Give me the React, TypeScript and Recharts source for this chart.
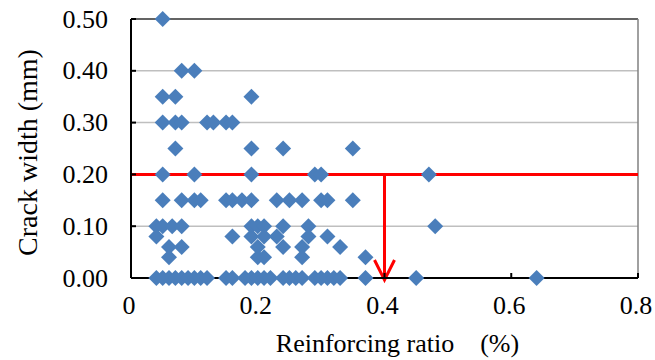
import { ScatterChart, Scatter, XAxis, YAxis, CartesianGrid, ReferenceLine, Label } from "recharts"

// reinforcing ratio (%) of each specimen, grouped by measured crack width (mm)
const ratiosAt050 = [0.05]
const ratiosAt040 = [0.08, 0.1]
const ratiosAt035 = [0.05, 0.07, 0.19]
const ratiosAt030 = [0.05, 0.07, 0.08, 0.12, 0.13, 0.15, 0.16]
const ratiosAt025 = [0.07, 0.19, 0.24, 0.35]
const ratiosAt020 = [0.05, 0.1, 0.19, 0.29, 0.3, 0.47]
const ratiosAt015 = [0.05, 0.08, 0.1, 0.11, 0.15, 0.16, 0.175, 0.19, 0.23, 0.25, 0.27, 0.3, 0.31, 0.35]
const ratiosAt010 = [0.04, 0.05, 0.065, 0.08, 0.19, 0.2, 0.21, 0.24, 0.28, 0.48]
const ratiosAt008 = [0.04, 0.16, 0.19, 0.21, 0.23, 0.28, 0.31]
const ratiosAt006 = [0.06, 0.08, 0.2, 0.24, 0.27, 0.33]
const ratiosAt004 = [0.06, 0.2, 0.21, 0.27, 0.37]
const ratiosAt000 = [
  0.04, 0.05, 0.06, 0.07, 0.08, 0.09, 0.1, 0.11, 0.12, 0.15, 0.16, 0.18, 0.19, 0.2, 0.21, 0.22,
  0.24, 0.25, 0.26, 0.27, 0.29, 0.3, 0.31, 0.32, 0.33, 0.37, 0.45, 0.64,
]

const crackWidths = [0.5, 0.4, 0.35, 0.3, 0.25, 0.2, 0.15, 0.1, 0.08, 0.06, 0.04, 0]
const ratioGroups = [
  ratiosAt050, ratiosAt040, ratiosAt035, ratiosAt030, ratiosAt025, ratiosAt020,
  ratiosAt015, ratiosAt010, ratiosAt008, ratiosAt006, ratiosAt004, ratiosAt000,
]

const xTicks = [0, 0.2, 0.4, 0.6, 0.8]
const yTicks = [0, 0.1, 0.2, 0.3, 0.4, 0.5]

const limitWidth = 0.2
const limitRatio = 0.4

const data = ratioGroups.flatMap((group, i) => group.map((ratio) => ({ ratio, crack: crackWidths[i] })))

const FONT = "Liberation Serif"

const Diamond = (props: any) => {
  const { cx, cy } = props
  const r = 8
  return (
    <polygon
      points={`${cx},${cy - r} ${cx + r},${cy} ${cx},${cy + r} ${cx - r},${cy}`}
      fill="#4a7ebb"
    />
  )
}

const Arrow = (props: any) => {
  const { x1, y1, x2, y2 } = props
  const top = Math.min(y1, y2)
  const tip = Math.max(y1, y2) + 2
  const x = x1
  return (
    <g>
      <line x1={x} y1={top} x2={x} y2={tip} stroke="#ff0000" strokeWidth={3} />
      <polyline
        points={`${x - 10},${tip - 20} ${x},${tip} ${x + 10},${tip - 20}`}
        fill="none"
        stroke="#ff0000"
        strokeWidth={3}
      />
    </g>
  )
}

const XTick = (props: any) => {
  const { x, y, payload } = props
  const v = payload.value as number
  return (
    <text x={x - 2} y={y + 39} textAnchor="middle" fontFamily={FONT} fontSize={26} fill="#000">
      {v === 0 ? "0" : v.toFixed(1)}
    </text>
  )
}

const YTick = (props: any) => {
  const { x, y, payload } = props
  return (
    <text x={x - 26} y={y} textAnchor="end" dominantBaseline="central" fontFamily={FONT} fontSize={26} fill="#000">
      {(payload.value as number).toFixed(2)}
    </text>
  )
}

const YTitle = (props: any) => {
  const { viewBox } = props
  const x = viewBox.x + 27
  const y = viewBox.y + viewBox.height / 2 + 4
  return (
    <text
      x={x}
      y={y}
      transform={`rotate(-90 ${x} ${y})`}
      textAnchor="middle"
      dominantBaseline="central"
      fontFamily={FONT}
      fontSize={28}
      fill="#000"
    >
      Crack width (mm)
    </text>
  )
}

const XTitle = (props: any) => {
  const { viewBox } = props
  return (
    <text
      x={viewBox.x + viewBox.width / 2 + 13}
      y={viewBox.y + 74}
      textAnchor="middle"
      fill="#000"
      fontFamily={FONT}
      fontSize={26}
      style={{ whiteSpace: "pre" }}
    >
      {"Reinforcing ratio    (%)"}
    </text>
  )
}

export default function App() {
  return (
    <div style={{ position: "absolute", left: 0, top: 0, width: 655, height: 360, background: "#fff", fontFamily: FONT }}>
      <ScatterChart width={655} height={360} margin={{ top: 19, right: 17, bottom: 0, left: 0 }}>
        <CartesianGrid horizontal vertical={false} stroke="#bfbfbf" strokeWidth={1.5} />
        <XAxis
          type="number"
          dataKey="ratio"
          domain={[0, 0.8]}
          ticks={xTicks}
          height={82}
          stroke="#000"
          strokeWidth={2}
          tickSize={-5}
          tick={<XTick />}
        >
          <Label content={<XTitle />} />
        </XAxis>
        <YAxis
          type="number"
          dataKey="crack"
          domain={[0, 0.5]}
          ticks={yTicks}
          width={131}
          stroke="#000"
          strokeWidth={2}
          tickSize={-5}
          tick={<YTick />}
        >
          <Label content={<YTitle />} />
        </YAxis>
        <ReferenceLine y={0.5} stroke="#404040" strokeWidth={1.5} />
        <ReferenceLine x={0.8} stroke="#808080" strokeWidth={1.5} />
        <Scatter data={data} shape={<Diamond />} isAnimationActive={false} />
        <ReferenceLine y={limitWidth} stroke="#ff0000" strokeWidth={3} />
        <ReferenceLine
          segment={[
            { x: limitRatio, y: limitWidth },
            { x: limitRatio, y: 0 },
          ]}
          shape={<Arrow />}
        />
      </ScatterChart>
    </div>
  )
}
